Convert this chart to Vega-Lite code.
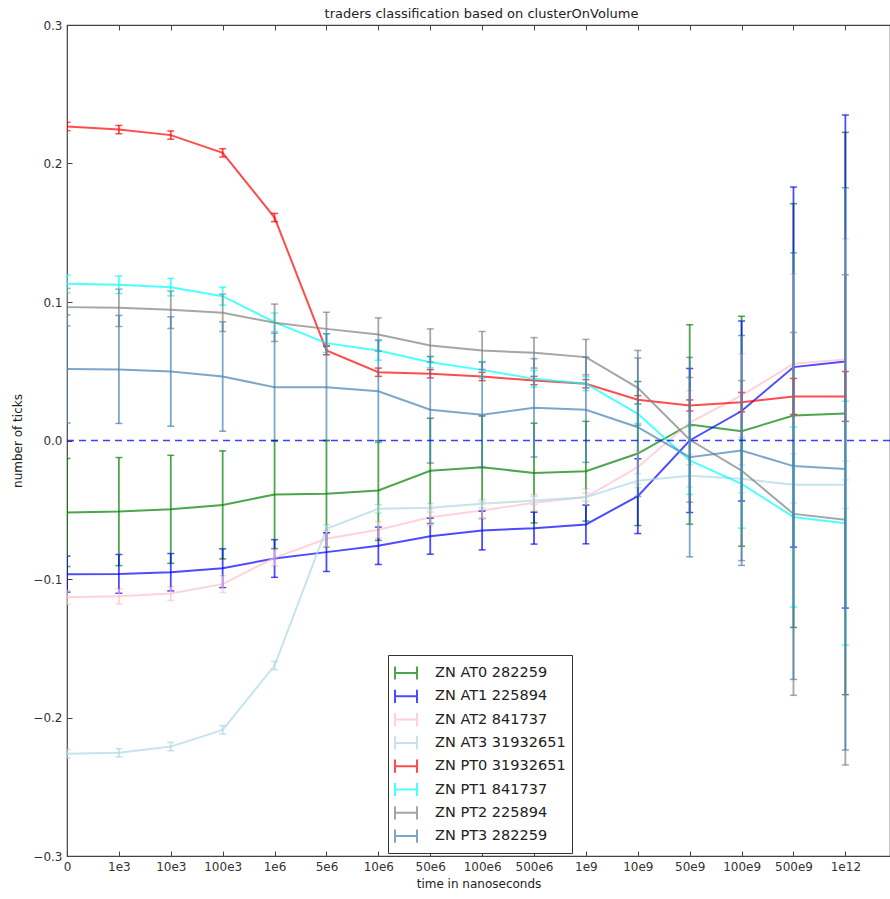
{
  "$schema": "https://vega.github.io/schema/vega-lite/v6.json",
  "autosize": "none",
  "width": 823,
  "height": 831,
  "padding": {"left": 67, "top": 25, "right": 0, "bottom": 43},
  "background": "white",
  "title": {"text": "traders classification based on clusterOnVolume", "fontSize": 13, "fontWeight": "normal", "font": "DejaVu Sans", "color": "#222", "offset": -2, "anchor": "middle", "dx": 3},
  "config": {
    "view": {"stroke": "#444", "strokeWidth": 1.2},
    "font": "DejaVu Sans",
    "axis": {"domain": false, "grid": false, "labelFont": "DejaVu Sans", "labelFontSize": 12, "labelColor": "#333", "titleFont": "DejaVu Sans", "titleFontSize": 12, "titleFontWeight": "normal", "titleColor": "#222", "tickColor": "#444", "tickSize": -5, "tickWidth": 1}
  },
  "resolve": {"axis": {"x": "independent"}},
  "data": {"values": [
    {"s":"ZN AT0 282259","i":0,"m":-0.052,"e":0.039},
    {"s":"ZN AT0 282259","i":1,"m":-0.0513,"e":0.039},
    {"s":"ZN AT0 282259","i":2,"m":-0.0497,"e":0.039},
    {"s":"ZN AT0 282259","i":3,"m":-0.0465,"e":0.039},
    {"s":"ZN AT0 282259","i":4,"m":-0.039,"e":0.039},
    {"s":"ZN AT0 282259","i":5,"m":-0.0385,"e":0.0385},
    {"s":"ZN AT0 282259","i":6,"m":-0.0361,"e":0.036},
    {"s":"ZN AT0 282259","i":7,"m":-0.0219,"e":0.038},
    {"s":"ZN AT0 282259","i":8,"m":-0.0193,"e":0.037},
    {"s":"ZN AT0 282259","i":9,"m":-0.0235,"e":0.036},
    {"s":"ZN AT0 282259","i":10,"m":-0.0222,"e":0.036},
    {"s":"ZN AT0 282259","i":11,"m":-0.0094,"e":0.052},
    {"s":"ZN AT0 282259","i":12,"m":0.0116,"e":0.072},
    {"s":"ZN AT0 282259","i":13,"m":0.0067,"e":0.083},
    {"s":"ZN AT0 282259","i":14,"m":0.018,"e":0.153},
    {"s":"ZN AT0 282259","i":15,"m":0.0195,"e":0.203},
    {"s":"ZN AT1 225894","i":0,"m":-0.0965,"e":0.013},
    {"s":"ZN AT1 225894","i":1,"m":-0.0963,"e":0.014},
    {"s":"ZN AT1 225894","i":2,"m":-0.0951,"e":0.0135},
    {"s":"ZN AT1 225894","i":3,"m":-0.0922,"e":0.014},
    {"s":"ZN AT1 225894","i":4,"m":-0.0852,"e":0.0136},
    {"s":"ZN AT1 225894","i":5,"m":-0.0806,"e":0.014},
    {"s":"ZN AT1 225894","i":6,"m":-0.076,"e":0.0135},
    {"s":"ZN AT1 225894","i":7,"m":-0.0691,"e":0.013},
    {"s":"ZN AT1 225894","i":8,"m":-0.065,"e":0.014},
    {"s":"ZN AT1 225894","i":9,"m":-0.0633,"e":0.0115},
    {"s":"ZN AT1 225894","i":10,"m":-0.0606,"e":0.014},
    {"s":"ZN AT1 225894","i":11,"m":-0.0402,"e":0.027},
    {"s":"ZN AT1 225894","i":12,"m":0.0,"e":0.052},
    {"s":"ZN AT1 225894","i":13,"m":0.0213,"e":0.065},
    {"s":"ZN AT1 225894","i":14,"m":0.053,"e":0.13},
    {"s":"ZN AT1 225894","i":15,"m":0.057,"e":0.178},
    {"s":"ZN AT2 841737","i":0,"m":-0.1131,"e":0.005},
    {"s":"ZN AT2 841737","i":1,"m":-0.1125,"e":0.0055},
    {"s":"ZN AT2 841737","i":2,"m":-0.1105,"e":0.005},
    {"s":"ZN AT2 841737","i":3,"m":-0.1037,"e":0.006},
    {"s":"ZN AT2 841737","i":4,"m":-0.0847,"e":0.006},
    {"s":"ZN AT2 841737","i":5,"m":-0.071,"e":0.006},
    {"s":"ZN AT2 841737","i":6,"m":-0.0645,"e":0.006},
    {"s":"ZN AT2 841737","i":7,"m":-0.0554,"e":0.006},
    {"s":"ZN AT2 841737","i":8,"m":-0.0505,"e":0.006},
    {"s":"ZN AT2 841737","i":9,"m":-0.045,"e":0.006},
    {"s":"ZN AT2 841737","i":10,"m":-0.0409,"e":0.006},
    {"s":"ZN AT2 841737","i":11,"m":-0.0193,"e":0.012},
    {"s":"ZN AT2 841737","i":12,"m":0.013,"e":0.023},
    {"s":"ZN AT2 841737","i":13,"m":0.0325,"e":0.03},
    {"s":"ZN AT2 841737","i":14,"m":0.0554,"e":0.065},
    {"s":"ZN AT2 841737","i":15,"m":0.0585,"e":0.087},
    {"s":"ZN AT3 31932651","i":0,"m":-0.2262,"e":0.003},
    {"s":"ZN AT3 31932651","i":1,"m":-0.2255,"e":0.003},
    {"s":"ZN AT3 31932651","i":2,"m":-0.221,"e":0.003},
    {"s":"ZN AT3 31932651","i":3,"m":-0.2089,"e":0.003},
    {"s":"ZN AT3 31932651","i":4,"m":-0.1625,"e":0.003},
    {"s":"ZN AT3 31932651","i":5,"m":-0.0638,"e":0.003},
    {"s":"ZN AT3 31932651","i":6,"m":-0.0493,"e":0.003},
    {"s":"ZN AT3 31932651","i":7,"m":-0.0486,"e":0.003},
    {"s":"ZN AT3 31932651","i":8,"m":-0.0457,"e":0.003},
    {"s":"ZN AT3 31932651","i":9,"m":-0.0433,"e":0.003},
    {"s":"ZN AT3 31932651","i":10,"m":-0.0409,"e":0.003},
    {"s":"ZN AT3 31932651","i":11,"m":-0.029,"e":0.005},
    {"s":"ZN AT3 31932651","i":12,"m":-0.0255,"e":0.008},
    {"s":"ZN AT3 31932651","i":13,"m":-0.0277,"e":0.01},
    {"s":"ZN AT3 31932651","i":14,"m":-0.032,"e":0.013},
    {"s":"ZN AT3 31932651","i":15,"m":-0.032,"e":0.017},
    {"s":"ZN PT0 31932651","i":0,"m":0.2267,"e":0.003},
    {"s":"ZN PT0 31932651","i":1,"m":0.2245,"e":0.003},
    {"s":"ZN PT0 31932651","i":2,"m":0.2205,"e":0.003},
    {"s":"ZN PT0 31932651","i":3,"m":0.2077,"e":0.003},
    {"s":"ZN PT0 31932651","i":4,"m":0.161,"e":0.003},
    {"s":"ZN PT0 31932651","i":5,"m":0.065,"e":0.003},
    {"s":"ZN PT0 31932651","i":6,"m":0.0493,"e":0.003},
    {"s":"ZN PT0 31932651","i":7,"m":0.0482,"e":0.003},
    {"s":"ZN PT0 31932651","i":8,"m":0.0462,"e":0.003},
    {"s":"ZN PT0 31932651","i":9,"m":0.0433,"e":0.003},
    {"s":"ZN PT0 31932651","i":10,"m":0.041,"e":0.003},
    {"s":"ZN PT0 31932651","i":11,"m":0.0294,"e":0.003},
    {"s":"ZN PT0 31932651","i":12,"m":0.0253,"e":0.004},
    {"s":"ZN PT0 31932651","i":13,"m":0.0277,"e":0.007},
    {"s":"ZN PT0 31932651","i":14,"m":0.0318,"e":0.013},
    {"s":"ZN PT0 31932651","i":15,"m":0.0318,"e":0.018},
    {"s":"ZN PT1 841737","i":0,"m":0.1131,"e":0.0065},
    {"s":"ZN PT1 841737","i":1,"m":0.1124,"e":0.0063},
    {"s":"ZN PT1 841737","i":2,"m":0.1107,"e":0.0063},
    {"s":"ZN PT1 841737","i":3,"m":0.1042,"e":0.0065},
    {"s":"ZN PT1 841737","i":4,"m":0.0854,"e":0.0067},
    {"s":"ZN PT1 841737","i":5,"m":0.0703,"e":0.0067},
    {"s":"ZN PT1 841737","i":6,"m":0.065,"e":0.007},
    {"s":"ZN PT1 841737","i":7,"m":0.0565,"e":0.004},
    {"s":"ZN PT1 841737","i":8,"m":0.051,"e":0.006},
    {"s":"ZN PT1 841737","i":9,"m":0.0445,"e":0.006},
    {"s":"ZN PT1 841737","i":10,"m":0.041,"e":0.005},
    {"s":"ZN PT1 841737","i":11,"m":0.0193,"e":0.007},
    {"s":"ZN PT1 841737","i":12,"m":-0.0144,"e":0.0245},
    {"s":"ZN PT1 841737","i":13,"m":-0.0313,"e":0.032},
    {"s":"ZN PT1 841737","i":14,"m":-0.0552,"e":0.065},
    {"s":"ZN PT1 841737","i":15,"m":-0.0597,"e":0.088},
    {"s":"ZN PT2 225894","i":0,"m":0.0963,"e":0.0135},
    {"s":"ZN PT2 225894","i":1,"m":0.0958,"e":0.0135},
    {"s":"ZN PT2 225894","i":2,"m":0.0944,"e":0.0135},
    {"s":"ZN PT2 225894","i":3,"m":0.0922,"e":0.0135},
    {"s":"ZN PT2 225894","i":4,"m":0.085,"e":0.0135},
    {"s":"ZN PT2 225894","i":5,"m":0.0806,"e":0.012},
    {"s":"ZN PT2 225894","i":6,"m":0.0765,"e":0.012},
    {"s":"ZN PT2 225894","i":7,"m":0.0686,"e":0.012},
    {"s":"ZN PT2 225894","i":8,"m":0.065,"e":0.0137},
    {"s":"ZN PT2 225894","i":9,"m":0.0633,"e":0.011},
    {"s":"ZN PT2 225894","i":10,"m":0.0602,"e":0.0128},
    {"s":"ZN PT2 225894","i":11,"m":0.038,"e":0.027},
    {"s":"ZN PT2 225894","i":12,"m":0.0005,"e":0.045},
    {"s":"ZN PT2 225894","i":13,"m":-0.0217,"e":0.065},
    {"s":"ZN PT2 225894","i":14,"m":-0.053,"e":0.131},
    {"s":"ZN PT2 225894","i":15,"m":-0.0573,"e":0.177},
    {"s":"ZN PT3 282259","i":0,"m":0.0517,"e":0.039},
    {"s":"ZN PT3 282259","i":1,"m":0.0513,"e":0.039},
    {"s":"ZN PT3 282259","i":2,"m":0.0498,"e":0.0395},
    {"s":"ZN PT3 282259","i":3,"m":0.0462,"e":0.0395},
    {"s":"ZN PT3 282259","i":4,"m":0.0385,"e":0.039},
    {"s":"ZN PT3 282259","i":5,"m":0.0385,"e":0.0385},
    {"s":"ZN PT3 282259","i":6,"m":0.0356,"e":0.037},
    {"s":"ZN PT3 282259","i":7,"m":0.0222,"e":0.0385},
    {"s":"ZN PT3 282259","i":8,"m":0.0186,"e":0.038},
    {"s":"ZN PT3 282259","i":9,"m":0.0236,"e":0.0355},
    {"s":"ZN PT3 282259","i":10,"m":0.0222,"e":0.038},
    {"s":"ZN PT3 282259","i":11,"m":0.0096,"e":0.05},
    {"s":"ZN PT3 282259","i":12,"m":-0.012,"e":0.072},
    {"s":"ZN PT3 282259","i":13,"m":-0.0072,"e":0.083},
    {"s":"ZN PT3 282259","i":14,"m":-0.0185,"e":0.154},
    {"s":"ZN PT3 282259","i":15,"m":-0.0205,"e":0.203}
  ]},
  "encoding": {
    "x": {"field": "i", "type": "quantitative", "scale": {"domain": [0, 15.86], "nice": false, "zero": false},
      "axis": {"title": "time in nanoseconds", "values": [0,1,2,3,4,5,6,7,8,9,10,11,12,13,14,15], "labelPadding": 10, "titlePadding": 6, "labelFlush": false, "labelOverlap": false,
        "labelExpr": "['0','1e3','10e3','100e3','1e6','5e6','10e6','50e6','100e6','500e6','1e9','10e9','50e9','100e9','500e9','1e12'][datum.value]"}},
    "y": {"field": "m", "type": "quantitative", "scale": {"domain": [-0.3, 0.3], "nice": false},
      "axis": {"title": "number of ticks", "values": [-0.3,-0.2,-0.1,0,0.1,0.2,0.3], "labelPadding": 10, "titlePadding": 8, "labelFlush": false,
        "labelExpr": "replace(format(datum.value, '.1f'), '-', '−')"}},
    "color": {"field": "s", "type": "nominal",
      "scale": {"domain": ["ZN AT0 282259","ZN AT1 225894","ZN AT2 841737","ZN AT3 31932651","ZN PT0 31932651","ZN PT1 841737","ZN PT2 225894","ZN PT3 282259"],
        "range": ["#008000","#0000ff","#ffc0cb","#add8e6","#ff0000","#00ffff","#808080","#4682b4"]},
      "legend": {"title": null, "orient": "none", "legendX": 321, "legendY": 630, "symbolType": "M-1,-0.6L-1,0.6M-1,0L1,0M1,-0.6L1,0.6", "symbolSize": 484, "symbolStrokeWidth": 2, "symbolOpacity": 0.7, "symbolFillColor": "transparent", "labelFontSize": 14.5, "labelFont": "DejaVu Sans", "labelColor": "#222", "labelOffset": 17, "rowPadding": 0.3, "padding": 6, "strokeColor": "#333", "fillColor": "white", "labelLimit": 300}}
  },
  "layer": [
    {"mark": {"type": "line", "strokeWidth": 2, "opacity": 0.7}},
    {"mark": {"type": "errorbar", "clip": true, "ticks": {"size": 7, "thickness": 1.5, "opacity": 0.7}, "rule": {"strokeWidth": 1.8, "opacity": 0.7}},
      "encoding": {
        "x": {"field": "i", "type": "quantitative", "axis": {"orient": "top", "title": null, "labels": false, "values": [0,1,2,3,4,5,6,7,8,9,10,11,12,13,14,15]}},
        "yError": {"field": "e"}}},
    {"data": {"values": [{"zero": 0}]},
      "mark": {"type": "rule", "color": "#0000ff", "strokeWidth": 1.5, "strokeDash": [7, 5], "opacity": 0.75},
      "encoding": {"y": {"field": "zero", "type": "quantitative"}, "x": null, "color": null}}
  ]
}
